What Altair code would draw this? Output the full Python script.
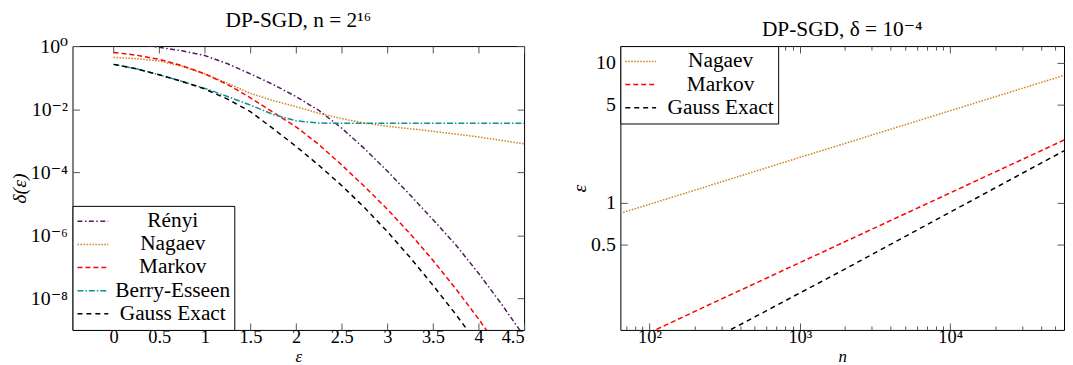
import altair as alt
import pandas as pd

# ---------------- data ----------------
# Left panel: delta(eps) on a log axis; values given as log10(delta)
EPS = [0, 0.25, 0.5, 0.75, 1.0, 1.25, 1.5, 1.75, 2.0, 2.25, 2.5, 2.75,
       3.0, 3.25, 3.5, 3.75, 4.0, 4.25, 4.5]
RENYI_LG = [0.15, 0.07, -0.04, -0.15, -0.30, -0.56, -0.88, -1.22, -1.60, -2.04,
            -2.60, -3.25, -3.96, -4.72, -5.50, -6.30, -7.20, -8.17, -9.20]
NAGAEV_LG = [-0.36, -0.40, -0.47, -0.64, -0.88, -1.18, -1.50, -1.73, -1.92, -2.13,
             -2.30, -2.44, -2.54, -2.62, -2.70, -2.79, -2.88, -2.99, -3.10]
MARKOV_LG = [-0.20, -0.29, -0.42, -0.62, -0.88, -1.22, -1.64, -2.10, -2.56, -3.12,
             -3.77, -4.45, -5.17, -5.95, -6.79, -7.69, -8.65, -9.67]
BERRY_LG = [-0.58, -0.72, -0.91, -1.12, -1.34, -1.60, -1.87, -2.17, -2.37, -2.44,
            -2.45, -2.45, -2.45, -2.45, -2.45, -2.45, -2.45, -2.45, -2.45]
GAUSS_LG = [-0.58, -0.72, -0.91, -1.12, -1.36, -1.68, -2.08, -2.62, -3.18, -3.78,
            -4.42, -5.12, -5.88, -6.70, -7.58, -8.50, -9.48]

LEFT_SERIES = ["Rényi", "Nagaev", "Markov", "Berry-Esseen", "Gauss Exact"]
LEFT_COLORS = ["#521a5e", "#d07f1e", "#ff0000", "#119090", "#000000"]
LEFT_DASHES = [[5, 2.5, 1.5, 2.5], [1.5, 1.5], [5, 3], [6, 2, 1.5, 2], [5, 4]]

LEFT_X_TICKS = [0, 0.5, 1, 1.5, 2, 2.5, 3, 3.5, 4, 4.5]
LEFT_Y_TICKS = [1, 1e-2, 1e-4, 1e-6, 1e-8]
LEFT_Y_LABELS = ["10⁰", "10⁻²", "10⁻⁴", "10⁻⁶", "10⁻⁸"]
LEFT_X_DOMAIN = [-0.45, 4.5]
LEFT_Y_DOMAIN = [1e-9, 1]

# Right panel: epsilon vs n (both log)
N_VALUES = [64, 128, 256, 512, 1024, 2048, 4096, 8192, 16384, 32768, 65536]
NAGAEV_EPS = [0.836, 1.054, 1.33, 1.68, 2.12, 2.67, 3.37, 4.25, 5.36, 6.76, 8.53]
MARKOV_EPS = [0.094, 0.132, 0.1875, 0.265, 0.375, 0.53, 0.75, 1.06, 1.50, 2.12, 3.0]
GAUSS_EPS = [0.047, 0.0697, 0.103, 0.153, 0.2275, 0.338, 0.507, 0.759, 1.135, 1.70, 2.54]

RIGHT_SERIES = ["Nagaev", "Markov", "Gauss Exact"]
RIGHT_COLORS = ["#d07f1e", "#ff0000", "#000000"]
RIGHT_DASHES = [[1.5, 1.5], [5, 3], [5, 4]]

RIGHT_X_TICKS = [100, 1000, 10000]
RIGHT_X_LABELS = ["10²", "10³", "10⁴"]
RIGHT_X_MINOR = [70, 80, 90, 200, 300, 400, 500, 600, 700, 800, 900,
                 2000, 3000, 4000, 5000, 6000, 7000, 8000, 9000,
                 20000, 30000, 40000, 50000]
RIGHT_Y_TICKS = [0.5, 1, 5, 10]
RIGHT_X_DOMAIN = [64, 57090]
RIGHT_Y_DOMAIN = [0.122, 13.2]

FONT = "Liberation Serif, DejaVu Serif, serif"
TICK = 7

# ---------------- tables ----------------
left_rows = []
for name, lg in zip(LEFT_SERIES, [RENYI_LG, NAGAEV_LG, MARKOV_LG, BERRY_LG, GAUSS_LG]):
    for e, v in zip(EPS, lg):
        left_rows.append({"eps": e, "delta": 10 ** v, "method": name})
left_df = pd.DataFrame(left_rows)
left_in = left_df[(left_df.delta >= LEFT_Y_DOMAIN[0]) & (left_df.delta <= LEFT_Y_DOMAIN[1])]

right_rows = []
for name, vals in zip(RIGHT_SERIES, [NAGAEV_EPS, MARKOV_EPS, GAUSS_EPS]):
    for n, v in zip(N_VALUES, vals):
        right_rows.append({"n": n, "eps": v, "method": name})
right_df = pd.DataFrame(right_rows)
right_in = right_df[(right_df.n <= RIGHT_X_DOMAIN[1]) & (right_df.eps >= RIGHT_Y_DOMAIN[0])]


def label_expr(values, labels):
    expr = "''"
    for v, l in zip(values, labels):
        expr = f"abs(datum.value - {v}) < {v} * 0.01 ? '{l}' : ({expr})"
    return expr


def legend(orient):
    return alt.Legend(
        title=None, orient=orient, offset=0, padding=4,
        strokeColor="#000000", fillColor="#ffffff",
        symbolType="stroke", symbolSize=961, symbolStrokeWidth=1.5,
        clipHeight=23,
        labelFont=FONT, labelFontSize=21.5, labelColor="#000000",
        labelAlign="center", labelOffset=64, rowPadding=0.3,
        labelLimit=300,
    )


def main_axis(orient, values, title=None, fmt=None, expr=None, horizontal=True):
    kw = dict(
        orient=orient, values=values, domain=False, grid=False,
        offset=-TICK, tickSize=TICK, tickColor="#555555", tickWidth=1,
        labelFont=FONT, labelColor="#000000",
        title=title, titleFont=FONT, titleFontWeight="normal",
        titleColor="#000000", titleFontStyle="italic",
    )
    if horizontal:
        kw.update(labelFontSize=18.5, labelPadding=-2, titleFontSize=17,
                  titleBaseline="alphabetic", titlePadding=15.5)
    else:
        kw.update(labelFontSize=20, labelPadding=5, titleFontSize=20,
                  titlePadding=1)
    if fmt:
        kw["format"] = fmt
    if expr:
        kw["labelExpr"] = expr
    return alt.Axis(**kw)


def mirror_axis(orient, values, size=TICK):
    return alt.Axis(orient=orient, values=values, domain=False, grid=False,
                    offset=-size, tickSize=size, tickColor="#555555",
                    labels=False, title=None)


# ---------------- left panel ----------------
lx = alt.Scale(type="linear", domain=LEFT_X_DOMAIN, nice=False, zero=False)
ly = alt.Scale(type="log", domain=LEFT_Y_DOMAIN, nice=False)

left_lines = alt.Chart(left_df).mark_line(strokeWidth=1.5, clip=True).encode(
    x=alt.X("eps:Q", scale=lx,
            axis=main_axis("bottom", LEFT_X_TICKS, "ε", fmt="~g")),
    y=alt.Y("delta:Q", scale=ly,
            axis=main_axis("left", LEFT_Y_TICKS, "δ(ε)",
                           expr=label_expr(LEFT_Y_TICKS, LEFT_Y_LABELS),
                           horizontal=False)),
    color=alt.Color("method:N", sort=LEFT_SERIES,
                    scale=alt.Scale(domain=LEFT_SERIES, range=LEFT_COLORS),
                    legend=legend("bottom-left")),
    strokeDash=alt.StrokeDash("method:N", sort=LEFT_SERIES,
                              scale=alt.Scale(domain=LEFT_SERIES, range=LEFT_DASHES),
                              legend=legend("bottom-left")),
    order=alt.Order("eps:Q"),
)

left_mirror = alt.Chart(left_in).mark_point(opacity=0, clip=True).encode(
    x=alt.X("eps:Q", scale=lx, axis=mirror_axis("top", LEFT_X_TICKS)),
    y=alt.Y("delta:Q", scale=ly, axis=mirror_axis("right", LEFT_Y_TICKS)),
)

left = alt.layer(left_mirror, left_lines).resolve_axis(
    x="independent", y="independent"
).properties(
    width=455, height=286,
    title=alt.TitleParams("DP-SGD, n = 2¹⁶"),
)

# ---------------- right panel ----------------
rx = alt.Scale(type="log", domain=RIGHT_X_DOMAIN, nice=False)
ry = alt.Scale(type="log", domain=RIGHT_Y_DOMAIN, nice=False)

right_lines = alt.Chart(right_df).mark_line(strokeWidth=1.5, clip=True).encode(
    x=alt.X("n:Q", scale=rx,
            axis=main_axis("bottom", RIGHT_X_TICKS, "n",
                           expr=label_expr(RIGHT_X_TICKS, RIGHT_X_LABELS))),
    y=alt.Y("eps:Q", scale=ry,
            axis=main_axis("left", RIGHT_Y_TICKS, "ε", fmt="~g", horizontal=False)),
    color=alt.Color("method:N", sort=RIGHT_SERIES,
                    scale=alt.Scale(domain=RIGHT_SERIES, range=RIGHT_COLORS),
                    legend=legend("top-left")),
    strokeDash=alt.StrokeDash("method:N", sort=RIGHT_SERIES,
                              scale=alt.Scale(domain=RIGHT_SERIES, range=RIGHT_DASHES),
                              legend=legend("top-left")),
    order=alt.Order("n:Q"),
)

right_mirror = alt.Chart(right_in).mark_point(opacity=0, clip=True).encode(
    x=alt.X("n:Q", scale=rx, axis=mirror_axis("top", RIGHT_X_TICKS)),
    y=alt.Y("eps:Q", scale=ry, axis=mirror_axis("right", RIGHT_Y_TICKS)),
)
right_minor_bottom = alt.Chart(right_in).mark_point(opacity=0, clip=True).encode(
    x=alt.X("n:Q", scale=rx, axis=mirror_axis("bottom", RIGHT_X_MINOR, 4)),
    y=alt.Y("eps:Q", scale=ry, axis=None),
)
right_minor_top = alt.Chart(right_in).mark_point(opacity=0, clip=True).encode(
    x=alt.X("n:Q", scale=rx, axis=mirror_axis("top", RIGHT_X_MINOR, 4)),
    y=alt.Y("eps:Q", scale=ry, axis=None),
)

right = alt.layer(right_minor_bottom, right_minor_top, right_mirror, right_lines).resolve_axis(
    x="independent", y="independent"
).properties(
    width=447, height=286,
    title=alt.TitleParams("DP-SGD, δ = 10⁻⁴"),
)

chart = alt.hconcat(left, right, spacing=44).resolve_scale(
    color="independent", strokeDash="independent"
).properties(
    padding={"left": 0, "top": 0, "right": 0, "bottom": 3},
).configure_view(
    stroke="#000000", strokeWidth=1,
).configure_title(
    font=FONT, fontSize=21.5, fontWeight="normal", color="#000000",
    anchor="middle", offset=5,
).configure_concat(spacing=44)

chart.save("out.html", embed_options={"renderer": "svg", "actions": False})
